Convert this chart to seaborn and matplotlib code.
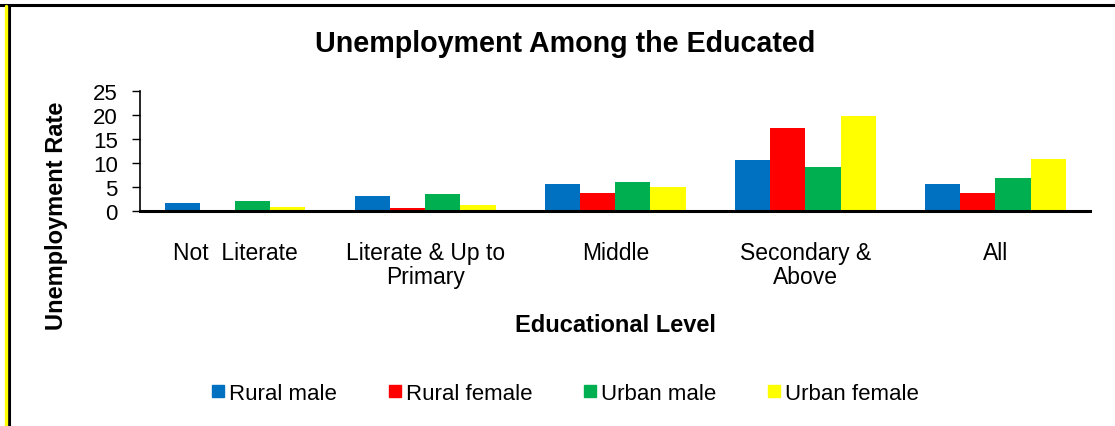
import matplotlib
matplotlib.use("Agg")
import matplotlib.pyplot as plt
from matplotlib.lines import Line2D
import seaborn as sns
import pandas as pd

categories = ["Not  Literate", "Literate & Up to\nPrimary", "Middle", "Secondary &\nAbove", "All"]
series = ["Rural male", "Rural female", "Urban male", "Urban female"]
rural_male = [1.6, 3.0, 5.6, 10.5, 5.6]
rural_female = [0.0, 0.5, 3.7, 17.2, 3.8]
urban_male = [2.0, 3.6, 6.0, 9.2, 6.8]
urban_female = [0.7, 1.2, 5.0, 19.7, 10.8]
colors = ["#0070C0", "#FF0000", "#00B050", "#FFFF00"]
yticks = [0, 5, 10, 15, 20, 25]

rows = []
for name, vals in zip(series, [rural_male, rural_female, urban_male, urban_female]):
    for cat, v in zip(categories, vals):
        rows.append({"Educational Level": cat, "Group": name, "Rate": v})
df = pd.DataFrame(rows)

sns.set_theme(style="white")
plt.rcParams["font.family"] = ["Liberation Sans", "DejaVu Sans"]
plt.rcParams.update({"text.color": "black", "axes.labelcolor": "black",
                     "xtick.color": "black", "ytick.color": "black"})

fig = plt.figure(figsize=(11.15, 4.27), dpi=100)
ax = fig.add_axes([0.1256, 0.504, 0.8524, 0.281])

sns.barplot(data=df, x="Educational Level", y="Rate", hue="Group",
            order=categories, hue_order=series, palette=colors,
            width=0.74, gap=0, saturation=1, linewidth=0, ax=ax, legend=False)

ax.set_xlim(-0.5, 4.5)
ax.set_ylim(0, 25)
ax.set_yticks(yticks)
ax.tick_params(axis="y", direction="out", length=6, width=1, labelsize=16, pad=10,
               left=True, color="black")
ax.tick_params(axis="x", length=0, labelsize=16.5, pad=22)
for lbl in ax.get_xticklabels():
    lbl.set_linespacing(1.05)
for s in ["top", "right"]:
    ax.spines[s].set_visible(False)
ax.spines["left"].set_color("black")
ax.spines["left"].set_linewidth(1.2)
ax.spines["bottom"].set_color("black")
ax.spines["bottom"].set_linewidth(2.2)

ax.set_xlabel("Educational Level", fontsize=17, fontweight="bold")
ax.set_ylabel("Unemployment Rate", fontsize=17, fontweight="bold")
ax.xaxis.set_label_coords(0.5, -0.95)
ax.yaxis.set_label_coords(-0.088, -0.03)
ax.xaxis.label.set_va("center")
ax.yaxis.label.set_va("center")

fig.text(0.507, 0.897, "Unemployment Among the Educated", ha="center", va="center",
         fontsize=20.6, fontweight="bold")

handles = [Line2D([0], [0], marker="s", linestyle="none", markersize=9,
                  markerfacecolor=c, markeredgecolor=c) for c in colors]
fig.legend(handles, series, loc="center", bbox_to_anchor=(0.507, 0.076), ncol=4,
           frameon=False, fontsize=16, handlelength=0.6, handletextpad=0.2,
           columnspacing=2.3)

# frame: black rule along top and left, with a yellow strip outside it
fig.add_artist(Line2D([0, 1], [1 - 6 / 427, 1 - 6 / 427], color="black", linewidth=2.2,
                      transform=fig.transFigure))
fig.add_artist(Line2D([9 / 1115, 9 / 1115], [0, 1 - 6 / 427], color="black", linewidth=2.2,
                      transform=fig.transFigure))
fig.add_artist(Line2D([6 / 1115, 6 / 1115], [0, 1 - 7 / 427], color="#FFFF00", linewidth=2.4,
                      transform=fig.transFigure))

fig.savefig("out.png", dpi=100, facecolor="white")
